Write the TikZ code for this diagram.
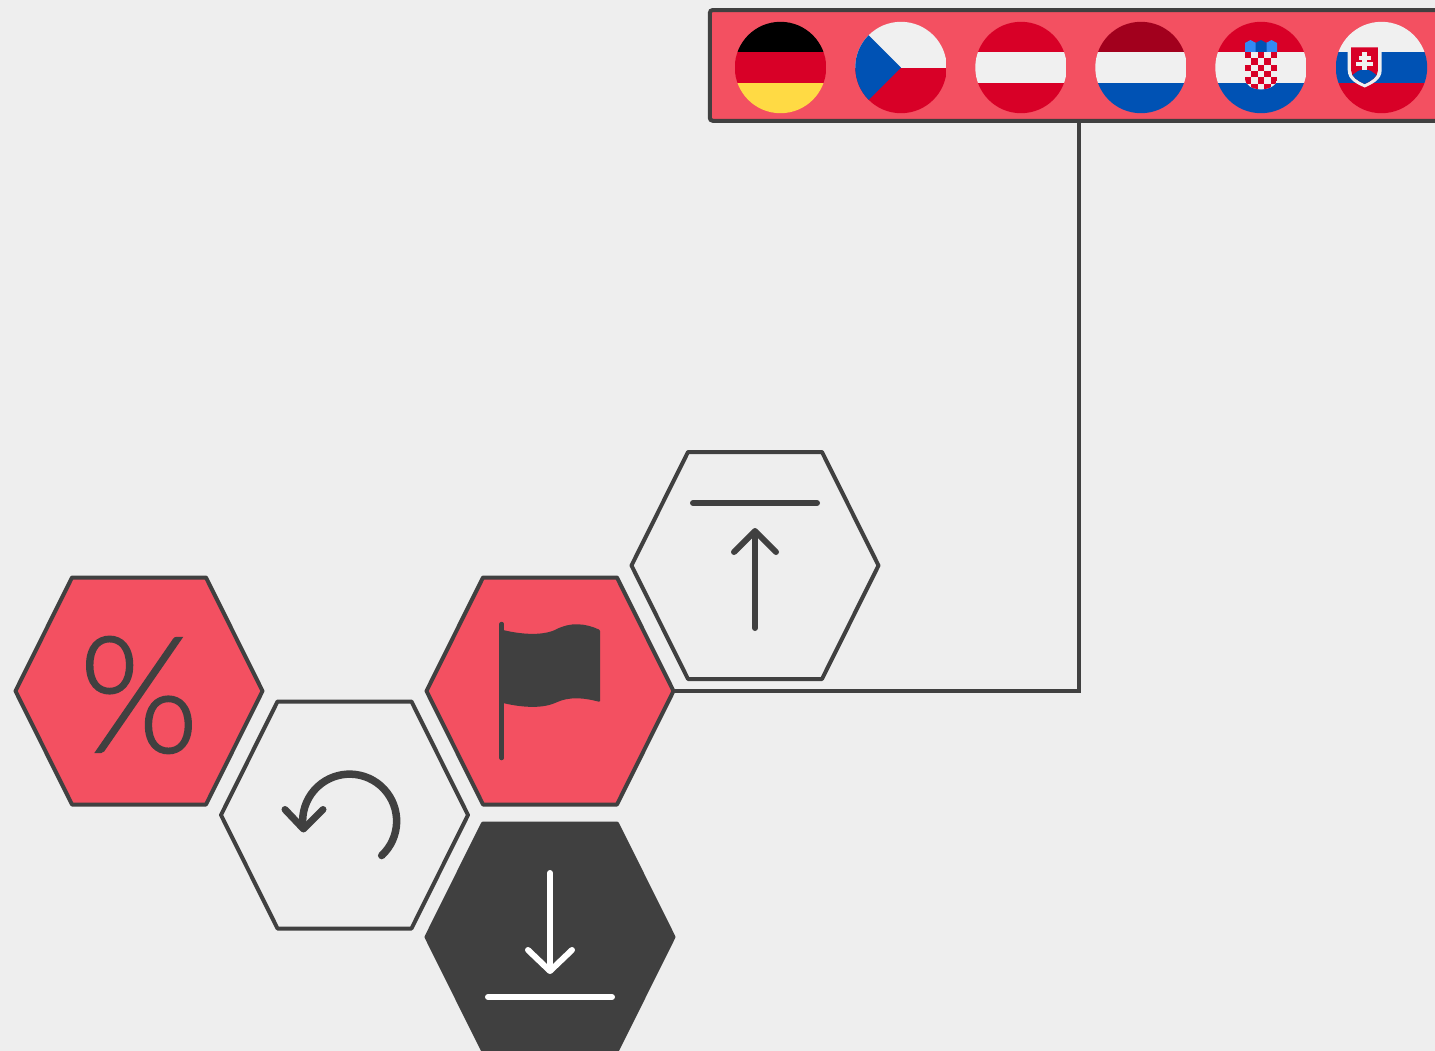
\documentclass[tikz,border=0pt]{standalone}
\usepackage{fontspec}
\newfontfamily\pctfont[FakeBold=1]{Lato Light}
\definecolor{bgc}{HTML}{EEEEEE}
\definecolor{redc}{HTML}{F35061}
\definecolor{darkc}{HTML}{404040}
\definecolor{fred}{HTML}{D80027}
\definecolor{fdred}{HTML}{A2001D}
\definecolor{fblue}{HTML}{0052B4}
\definecolor{flblue}{HTML}{338AF3}
\definecolor{fyel}{HTML}{FFDA44}
\definecolor{fwhite}{HTML}{F0F0F0}
\tikzset{
  hexnode/.style={minimum width=2.47cm,minimum height=2.27cm,inner sep=0pt,outer sep=0pt},
  hexline/.style={line width=0.04cm,line join=round},
  icon/.style={line width=0.06cm,line cap=round,line join=round},
  tabbox/.style={draw=darkc,fill=redc,line width=0.04cm,rounded corners=0.03cm,minimum width=7.38cm,minimum height=1.107cm,inner sep=0pt,outer sep=0pt},
  link/.style={draw=darkc,line width=0.04cm,line join=miter},
}
% name, cx, cy, fill, stroke
\newcommand{\hexa}[5]{%
  \draw[hexline,fill=#4,draw=#5] (#2-123.5,#3) -- (#2-67,#3-113.5) -- (#2+67,#3-113.5)
     -- (#2+123.5,#3) -- (#2+67,#3+113.5) -- (#2-67,#3+113.5) -- cycle;
  \node[hexnode] (#1) at (#2,#3) {};
}
% three horizontal stripes on a round flag
\newcommand{\stripes}[4]{%
  \begin{scope}
    \clip (#1,67.5) circle[radius=45.7];
    \fill[#2] (#1-46,21) rectangle (#1+46,51.7);
    \fill[#3] (#1-46,51.7) rectangle (#1+46,83.3);
    \fill[#4] (#1-46,83.3) rectangle (#1+46,114);
  \end{scope}
}
\begin{document}
\begin{tikzpicture}[x=0.01cm,y=-0.01cm]
\useasboundingbox (0,0) rectangle (1435,1051);
\fill[bgc] (0,0) rectangle (1435,1051);
\clip (0,0) rectangle (1435,1051);

% hexagons
\hexa{pct}{139}{691}{redc}{darkc}
\hexa{undo}{344.5}{815}{bgc}{darkc}
\hexa{flag}{550}{691}{redc}{darkc}
\hexa{up}{755}{565.5}{bgc}{darkc}
\hexa{down}{550}{937}{darkc}{darkc}

% tab and connector
\node[tabbox] (tab) at (1079,65.4) {};
\draw[link] (tab.south) |- (flag.east);

% percent
\node[text=darkc,inner sep=0pt] (pcttext) at (139,695) {\scalebox{0.93}[0.98]{\pctfont\fontsize{47pt}{47pt}\selectfont\%}};

% undo icon
\draw[line width=0.075cm,line cap=round,draw=darkc] (381.7,855.5) arc[start angle=47,end angle=-180,radius=47];
\draw[line width=0.07cm,line cap=round,line join=round,draw=darkc] (285,809.5) -- (303.5,829) -- (323,809.5);

% flag icon
\draw[line width=0.045cm,draw=darkc,line cap=round] (501.7,624) -- (501.7,758);
\fill[darkc,rounded corners=0.01cm] (503,630) .. controls (520,634) and (540,636) .. (555,630)
  .. controls (570,622) and (585,623) .. (600,630) -- (600,702)
  .. controls (585,698) and (570,696) .. (555,703)
  .. controls (540,709) and (520,707) .. (503,703) -- cycle;

% up icon
\draw[icon,draw=darkc] (693,503) -- (817,503);
\draw[icon,draw=darkc] (755,532) -- (755,628);
\draw[icon,draw=darkc] (734,552) -- (755,531) -- (776,552);

% download icon
\draw[icon,draw=white] (550,873) -- (550,970);
\draw[icon,draw=white] (528,950) -- (550,971) -- (572,950);
\draw[icon,draw=white] (488,997) -- (612,997);

% Germany
\stripes{780.5}{black}{fred}{fyel}
% Czechia
\begin{scope}
  \clip (901,67.5) circle[radius=45.7];
  \fill[fwhite] (855,21) rectangle (947,67.5);
  \fill[fred] (855,67.5) rectangle (947,114);
  \fill[fblue] (855,21) -- (868.7,35.2) -- (901,67.5) -- (868.7,99.8) -- (855,114) -- cycle;
\end{scope}
% Austria
\stripes{1021}{fred}{fwhite}{fred}
% Netherlands
\stripes{1141}{fdred}{fwhite}{fblue}
% Croatia
\stripes{1261}{fred}{fwhite}{fblue}
\begin{scope}
  \fill[flblue] (1245,52) -- (1245,43) -- (1250.5,40) -- (1256,43) -- (1256,52) -- cycle;
  \fill[flblue] (1266,52) -- (1266,43) -- (1271.5,40) -- (1277,43) -- (1277,52) -- cycle;
  \fill[fblue] (1255.5,52) -- (1255.5,43) -- (1261,40) -- (1266.5,43) -- (1266.5,52) -- cycle;
  \clip (1245,51.7) -- (1277.2,51.7) -- (1277.2,78) .. controls (1277.2,86) and (1269,89) .. (1261,89.5)
    .. controls (1253,89) and (1245,86) .. (1245,78) -- cycle;
  \fill[fwhite] (1245,51.7) rectangle (1278,90);
  \foreach \r in {0,...,5}{
    \foreach \c in {0,...,4}{
      \pgfmathparse{int(mod(\r+\c,2))}
      \ifnum\pgfmathresult=0
        \fill[fred] (1245+\c*6.44,51.7+\r*6.4) rectangle ++(6.44,6.4);
      \fi
    }
  }
\end{scope}
% Slovakia
\stripes{1381.5}{fwhite}{fblue}{fred}
\fill[fwhite] (1347.7,47.3) -- (1381.7,47.3) -- (1381.7,70) .. controls (1381.7,80) and (1372,84) .. (1364.7,87.5)
  .. controls (1357,84) and (1347.7,80) .. (1347.7,70) -- cycle;
\begin{scope}
  \clip (1351,47.3) -- (1378,47.3) -- (1378,70) .. controls (1378,77) and (1371,81) .. (1364.7,84)
    .. controls (1358,81) and (1351,77) .. (1351,70) -- cycle;
  \fill[fred] (1351,47.3) rectangle (1378,85);
  \fill[fblue] (1351,76) -- (1358,71) .. controls (1361,69) and (1368,69) .. (1371,71) -- (1378,76) -- (1378,86) -- (1351,86) -- cycle;
\end{scope}
\fill[fwhite] (1362.3,51.7) rectangle (1366.7,70);
\fill[fwhite] (1358.5,55.5) rectangle (1370.5,59.5);
\fill[fwhite] (1356,62) rectangle (1373,66);
\end{tikzpicture}
\end{document}
